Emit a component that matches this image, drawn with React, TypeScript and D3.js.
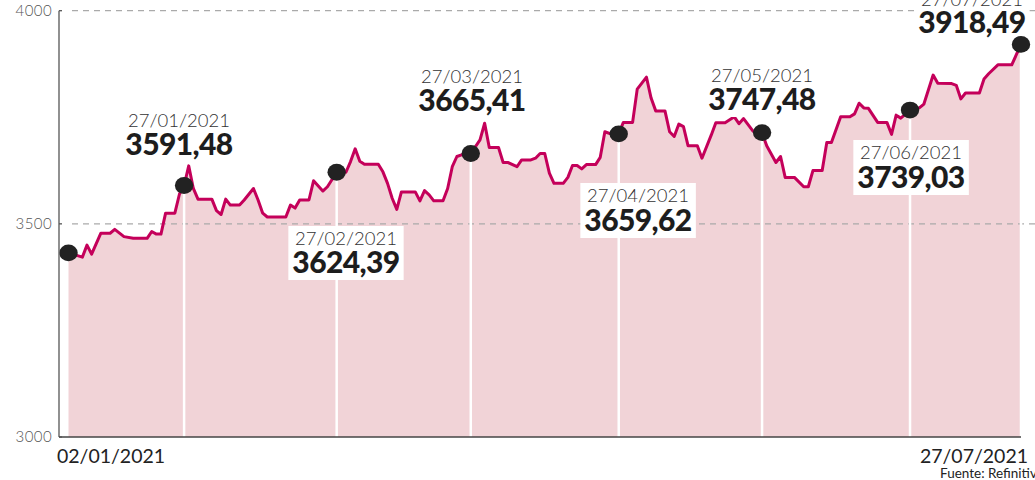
import React, { useLayoutEffect, useRef, useState } from "react";
import * as d3 from "d3";

// Day offsets from 02/01/2021 and index values
const days = [0,3,4,5,7,9,10,12,14,17,18,19,20,21,23,24,25,26,27,28,31,32,33,34,35,37,38,40,41,42,43,47,48,49,50,52,53,55,56,58,60,61,62,63,64,67,68,69,70,71,72,75,76,77,78,79,81,82,83,84,85,87,89,90,91,93,94,95,97,98,100,101,102,103,104,105,107,108,109,110,111,112,114,115,116,118,119,120,122,123,125,126,127,129,130,131,132,133,134,136,137,139,140,142,144,145,146,148,150,151,153,154,155,157,159,160,161,163,164,165,167,169,170,171,172,173,175,177,178,179,180,182,184,185,187,188,191,192,193,194,197,198,199,201,204,206];
const values = [3432,3422,3450,3429,3478,3478,3487,3470,3466,3466,3482,3476,3476,3525,3525,3570,3590,3636,3583,3558,3558,3531,3522,3558,3544,3544,3556,3583,3556,3525,3516,3516,3544,3537,3556,3556,3601,3577,3587,3621,3621,3646,3676,3647,3640,3640,3622,3595,3560,3534,3575,3575,3554,3578,3568,3554,3554,3583,3634,3658,3662,3665,3697,3736,3679,3679,3644,3644,3634,3650,3650,3654,3665,3665,3619,3595,3595,3609,3637,3637,3629,3639,3639,3656,3716,3708,3711,3738,3738,3816,3844,3795,3765,3765,3716,3705,3734,3728,3683,3683,3654,3708,3737,3737,3751,3735,3747,3718,3714,3683,3644,3658,3609,3609,3587,3587,3625,3625,3691,3691,3751,3751,3758,3783,3772,3771,3738,3738,3710,3755,3748,3767,3772,3781,3849,3830,3829,3825,3793,3807,3807,3840,3852,3873,3873,3921];

const markerDays = [0, 25, 58, 87, 119, 150, 182, 206];
const markerDates = ["02/01/2021", "27/01/2021", "27/02/2021", "27/03/2021", "27/04/2021", "27/05/2021", "27/06/2021", "27/07/2021"];
const markerValues = ["", "3591,48", "3624,39", "3665,41", "3659,62", "3747,48", "3739,03", "3918,49"];

const yTicks = [3000, 3500, 4000];
const xAxisLabels = ["02/01/2021", "27/07/2021"];
const sourceText = "Fuente: Refinitiv";

// layout of the callout labels (center x, date baseline y, value baseline y)
const labelLayout = [
  null,
  { cx: 179, dy: 127, vy: 155 },
  { cx: 346, dy: 245, vy: 273 },
  { cx: 472, dy: 83, vy: 111 },
  { cx: 638, dy: 202, vy: 231 },
  { cx: 762, dy: 82, vy: 110 },
  { cx: 911, dy: 159, vy: 188 },
  { cx: 972, dy: 6, vy: 33 },
];

const W = 1035, H = 480;
const LINE = "#c4005a";
const FILL = "#f1d3d7";

function Callout({ cx, dy, vy, date, value }) {
  const gRef = useRef(null);
  const [box, setBox] = useState(null);
  useLayoutEffect(() => {
    if (gRef.current) {
      const b = gRef.current.getBBox();
      setBox({ x: b.x - 4, y: b.y - 1, w: b.width + 8, h: b.height + 2 });
    }
  }, []);
  return (
    <g>
      {box && <rect x={box.x} y={box.y} width={box.w} height={box.h} fill="#fff" />}
      <g ref={gRef}>
        <text x={cx} y={dy} textAnchor="middle" fontFamily="Lato, 'Open Sans', sans-serif" fontWeight={300} fontSize={18.5} fill="#333">{date}</text>
        <text x={cx} y={vy} textAnchor="middle" fontFamily="Lato, 'Open Sans', sans-serif" fontWeight={900} fontSize={30} letterSpacing={-0.6} fill="#1d1d1d">{value}</text>
      </g>
    </g>
  );
}

export default function App() {
  const x = d3.scaleLinear().domain([0, 206]).range([68.5, 1021]);
  const y = d3.scaleLinear().domain([3000, 4000]).range([437, 10.7]);
  const pts = days.map((d, i) => [d, values[i]]);
  const valueAt = (d) => values[days.indexOf(d)];

  const area = d3.area().x((p) => x(p[0])).y0(y(3000)).y1((p) => y(p[1]))(pts);
  const line = d3.line().x((p) => x(p[0])).y((p) => y(p[1]))(pts);

  const axisX = 59;

  return (
    <svg width={W} height={H} style={{ position: "absolute", left: 0, top: 0, background: "#fff" }}>
      <path d={area} fill={FILL} />
      {yTicks.filter((t) => t > 3000).map((t) => (
        <line key={t} x1={72} x2={W} y1={y(t)} y2={y(t)} stroke="#aaa" strokeWidth={1.2} strokeDasharray="6,5" />
      ))}
      {markerDays.slice(1).map((d) => (
        <line key={d} x1={x(d)} x2={x(d)} y1={y(valueAt(d))} y2={y(3000)} stroke="#fff" strokeWidth={2.5} />
      ))}
      <path d={line} fill="none" stroke={LINE} strokeWidth={3} strokeLinejoin="round" />
      {markerDays.map((d, i) => {
        const L = labelLayout[i];
        if (!L) return null;
        return <Callout key={"c" + i} cx={L.cx} dy={L.dy} vy={L.vy} date={markerDates[i]} value={markerValues[i]} />;
      })}
      {markerDays.map((d) => (
        <ellipse key={"m" + d} cx={x(d)} cy={y(valueAt(d))} rx={9.2} ry={8.4} fill="#222" />
      ))}
      {/* axes */}
      <line x1={axisX} x2={axisX} y1={y(4000)} y2={y(3000)} stroke="#555" strokeWidth={1.3} />
      <line x1={axisX} x2={1021} y1={y(3000)} y2={y(3000)} stroke="#444" strokeWidth={1.3} />
      {yTicks.map((t) => (
        <g key={"t" + t}>
          <line x1={axisX} x2={axisX + 3} y1={y(t)} y2={y(t)} stroke="#555" strokeWidth={1.3} />
          <text x={52} y={y(t)} dy="0.36em" textAnchor="end" fontFamily="Lato, sans-serif" fontWeight={300} fontSize={15} letterSpacing={0.4} fill="#555">{t}</text>
        </g>
      ))}
      <text x={57} y={463} fontFamily="Lato, sans-serif" fontSize={19.5} fill="#222">{xAxisLabels[0]}</text>
      <text x={1028} y={463} textAnchor="end" fontFamily="Lato, sans-serif" fontSize={19.5} fill="#222">{xAxisLabels[1]}</text>
      <text x={940} y={478} fontFamily="Lato, sans-serif" fontSize={13.5} fill="#222">{sourceText}</text>
    </svg>
  );
}
